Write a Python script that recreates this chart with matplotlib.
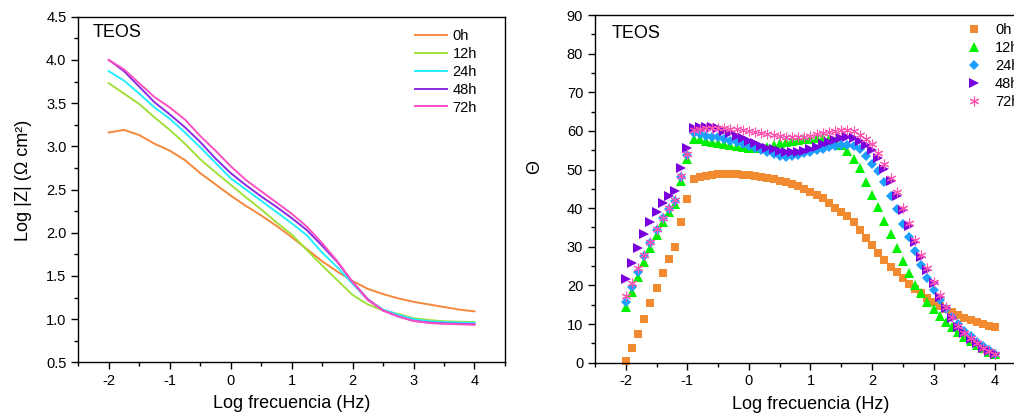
import matplotlib
matplotlib.use('Agg')
import matplotlib.pyplot as plt
from matplotlib.ticker import MultipleLocator

plt.rcParams['font.family'] = ['Liberation Sans', 'DejaVu Sans']
plt.rcParams['axes.unicode_minus'] = False

# Left panel: Log |Z| vs log frequency
log_f_lines = [-2.0, -1.75, -1.5, -1.25, -1.0, -0.75, -0.5, -0.25, 0.0, 0.25, 0.5, 0.75,
               1.0, 1.25, 1.5, 1.75, 2.0, 2.25, 2.5, 2.75, 3.0, 3.25, 3.5, 3.75, 4.0]
z_0h = [3.16, 3.19, 3.13, 3.03, 2.95, 2.84, 2.69, 2.56, 2.43, 2.31, 2.20, 2.08,
        1.95, 1.81, 1.67, 1.55, 1.44, 1.35, 1.29, 1.24, 1.20, 1.17, 1.14, 1.11, 1.09]
z_12h = [3.73, 3.61, 3.49, 3.335, 3.19, 3.03, 2.85, 2.70, 2.555, 2.41, 2.27, 2.12,
         1.98, 1.80, 1.62, 1.45, 1.28, 1.17, 1.10, 1.06, 1.01, 0.99, 0.975, 0.97, 0.965]
z_24h = [3.87, 3.76, 3.61, 3.45, 3.32, 3.16, 2.99, 2.81, 2.63, 2.50, 2.37, 2.24,
         2.11, 1.97, 1.77, 1.60, 1.41, 1.22, 1.11, 1.05, 1.00, 0.975, 0.965, 0.96, 0.955]
z_48h = [4.00, 3.87, 3.69, 3.51, 3.37, 3.22, 3.05, 2.86, 2.69, 2.55, 2.42, 2.30,
         2.17, 2.03, 1.85, 1.66, 1.43, 1.23, 1.10, 1.03, 0.98, 0.96, 0.95, 0.945, 0.94]
z_72h = [4.00, 3.89, 3.73, 3.57, 3.45, 3.31, 3.12, 2.95, 2.77, 2.61, 2.48, 2.35,
         2.22, 2.07, 1.88, 1.67, 1.43, 1.22, 1.10, 1.03, 0.98, 0.955, 0.945, 0.94, 0.935]

# Right panel: phase angle vs log frequency
log_f_pts = [-2.0, -1.9, -1.8, -1.7, -1.6, -1.5, -1.4, -1.3, -1.2, -1.1,
             -1.0, -0.9, -0.8, -0.7, -0.6, -0.5, -0.4, -0.3, -0.2, -0.1,
             0.0, 0.1, 0.2, 0.3, 0.4, 0.5, 0.6, 0.7, 0.8, 0.9,
             1.0, 1.1, 1.2, 1.3, 1.4, 1.5, 1.6, 1.7, 1.8, 1.9,
             2.0, 2.1, 2.2, 2.3, 2.4, 2.5, 2.6, 2.7, 2.8, 2.9,
             3.0, 3.1, 3.2, 3.3, 3.4, 3.5, 3.6, 3.7, 3.8, 3.9, 4.0]
th_0h = [0.5, 3.7, 7.3, 11.3, 15.4, 19.4, 23.3, 26.8, 29.9, 36.3,
         42.5, 47.6, 48.0, 48.3, 48.6, 48.8, 48.9, 48.9, 48.8, 48.7,
         48.6, 48.4, 48.1, 47.8, 47.5, 47.1, 46.7, 46.2, 45.7, 45.0,
         44.3, 43.4, 42.6, 41.4, 40.1, 39.1, 37.9, 36.4, 34.3, 32.2,
         30.4, 28.4, 26.5, 24.8, 23.4, 21.8, 20.4, 19.2, 18.0, 16.8,
         15.7, 14.7, 13.8, 13.0, 12.3, 11.6, 11.0, 10.5, 10.0, 9.6, 9.2]
th_12h = [14.3, 18.2, 22.2, 26.0, 29.7, 33.1, 36.4, 39.0, 41.0, 47.1,
          52.7, 58.0, 57.8, 57.5, 57.2, 56.9, 56.6, 56.3, 56.1, 55.9,
          55.7, 55.6, 55.6, 55.9, 56.4, 56.8, 57.1, 57.4, 57.6, 57.8,
          58.0, 58.1, 58.1, 57.9, 57.4, 56.4, 54.9, 52.6, 50.3, 46.9,
          43.5, 40.2, 36.8, 33.2, 29.6, 26.4, 23.3, 20.1, 18.0, 15.8,
          13.9, 12.2, 10.5, 9.2, 7.9, 6.7, 5.6, 4.6, 3.7, 2.8, 2.2]
th_24h = [15.6, 19.6, 23.6, 27.6, 31.1, 34.4, 37.4, 39.7, 41.8, 48.1,
          53.7, 59.4, 59.1, 58.8, 58.5, 58.3, 57.9, 57.5, 57.1, 56.7,
          56.2, 55.6, 55.0, 54.5, 54.0, 53.5, 53.3, 53.5, 53.8, 54.2,
          54.6, 55.0, 55.4, 55.8, 56.1, 56.3, 56.4, 56.0, 55.2, 53.6,
          51.5, 49.6, 46.8, 43.2, 39.8, 36.0, 32.5, 28.9, 25.4, 21.8,
          18.8, 16.3, 14.0, 11.7, 9.9, 8.3, 6.8, 5.4, 4.3, 3.3, 2.2]
th_48h = [21.7, 25.7, 29.6, 33.3, 36.5, 39.1, 41.4, 43.2, 44.4, 50.3,
          55.7, 60.8, 61.1, 61.1, 60.9, 60.7, 60.1, 59.4, 58.8, 58.1,
          57.5, 56.8, 56.2, 55.7, 55.2, 54.9, 54.6, 54.5, 54.5, 54.8,
          55.3, 55.9, 56.5, 57.1, 57.6, 58.1, 58.4, 58.2, 57.4, 56.3,
          55.0, 52.9, 50.2, 47.0, 43.1, 39.4, 35.4, 31.3, 27.4, 23.9,
          20.5, 17.1, 14.1, 11.5, 9.3, 7.6, 6.2, 5.0, 3.8, 2.9, 2.2]
th_72h = [17.3, 20.6, 24.4, 27.8, 31.3, 34.6, 37.5, 40.0, 42.1, 48.3,
          54.0, 60.2, 60.5, 60.7, 60.8, 60.8, 60.7, 60.6, 60.4, 60.2,
          60.0, 59.8, 59.5, 59.2, 58.9, 58.6, 58.4, 58.3, 58.3, 58.5,
          58.8, 59.1, 59.4, 59.7, 60.0, 60.2, 60.3, 59.9, 59.0, 58.0,
          56.6, 54.2, 51.5, 47.9, 44.1, 40.0, 36.1, 31.8, 28.0, 24.4,
          20.8, 17.4, 14.4, 11.8, 9.6, 7.8, 6.3, 5.0, 3.9, 3.0, 2.3]

labels = ['0h', '12h', '24h', '48h', '72h']
line_colors = ['#F5883A', '#A0E03A', '#22EEFF', '#8A2BE2', '#FF50C0']
mark_colors = ['#F28A30', '#00F000', '#1E9EFF', '#7A00DD', '#FF55B0']

fig = plt.figure(figsize=(10.14, 4.19), dpi=100)
ax1 = fig.add_axes([0.0772, 0.1353, 0.4208, 0.8248])
ax2 = fig.add_axes([0.5868, 0.1344, 0.4250, 0.8298])


def style_axes(ax):
    for sp in ax.spines.values():
        sp.set_linewidth(1.0)
    ax.tick_params(which='major', direction='out', length=5, width=1.0,
                   labelsize=10.5, pad=3.5, top=False, right=False)
    ax.tick_params(which='minor', direction='out', length=3, width=1.0,
                   top=False, right=False)


# Left: impedance modulus
for z, lab, c in zip([z_0h, z_12h, z_24h, z_48h, z_72h], labels, line_colors):
    ax1.plot(log_f_lines, z, color=c, lw=1.4, label=lab)
ax1.set_xlim(-2.5, 4.5)
ax1.set_ylim(0.5, 4.5)
ax1.xaxis.set_major_locator(MultipleLocator(1))
ax1.xaxis.set_minor_locator(MultipleLocator(0.5))
ax1.yaxis.set_major_locator(MultipleLocator(0.5))
ax1.yaxis.set_minor_locator(MultipleLocator(0.25))
ax1.yaxis.set_major_formatter(plt.FormatStrFormatter('%.1f'))
style_axes(ax1)
ax1.set_xlabel('Log frecuencia (Hz)', fontsize=13)
ax1.set_ylabel('Log |Z| (Ω cm²)', fontsize=13)
ax1.xaxis.set_label_coords(0.5, -0.095)
ax1.yaxis.set_label_coords(-0.108, 0.527)
ax1.text(0.0345, 0.953, 'TEOS', transform=ax1.transAxes, fontsize=13, va='center')
ax1.legend(loc='upper left', bbox_to_anchor=(0.79, 0.965), frameon=False,
           fontsize=10.5, handlelength=2.2, handletextpad=0.35,
           labelspacing=0.27, borderpad=0, borderaxespad=0)

# Right: phase angle
markers = ['s', '^', 'D', '>', (6, 2, 0)]
msizes = [5.5, 6.5, 5.0, 7.0, 7.0]
for th, lab, c, m, ms in zip([th_0h, th_12h, th_24h, th_48h, th_72h], labels,
                             mark_colors, markers, msizes):
    ax2.plot(log_f_pts, th, ls='none', marker=m, ms=ms, color=c,
             mec=c, mew=0.8 if m == (6, 2, 0) else 0.0, label=lab, clip_on=False)
ax2.set_xlim(-2.5, 4.5)
ax2.set_ylim(0, 90)
ax2.xaxis.set_major_locator(MultipleLocator(1))
ax2.xaxis.set_minor_locator(MultipleLocator(0.5))
ax2.yaxis.set_major_locator(MultipleLocator(10))
ax2.yaxis.set_minor_locator(MultipleLocator(5))
style_axes(ax2)
ax2.set_xlabel('Log frecuencia (Hz)', fontsize=13)
ax2.set_ylabel('Θ', fontsize=13)
ax2.xaxis.set_label_coords(0.5, -0.095)
ax2.yaxis.set_label_coords(-0.12, 0.563)
ax2.text(0.0387, 0.947, 'TEOS', transform=ax2.transAxes, fontsize=13, va='center')
ax2.legend(loc='upper left', bbox_to_anchor=(0.862, 0.976), frameon=False,
           fontsize=10.5, handlelength=1.0, handletextpad=0.95, numpoints=1,
           labelspacing=0.27, borderpad=0, borderaxespad=0)

fig.savefig('out.png', dpi=100)
